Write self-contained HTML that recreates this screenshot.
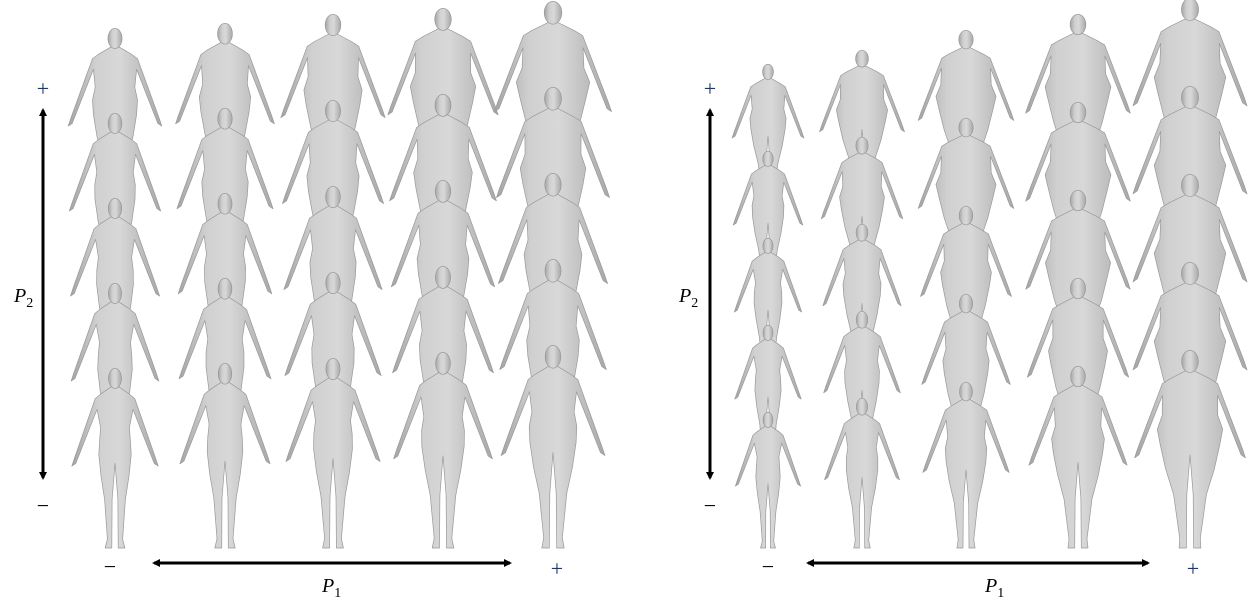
<!DOCTYPE html>
<html><head><meta charset="utf-8"><style>
html,body{margin:0;padding:0;background:#fff;}
svg{display:block;font-family:"Liberation Serif",serif;}
</style></head><body>
<svg id="fig" width="1248" height="602" viewBox="0 0 1248 602" xmlns="http://www.w3.org/2000/svg">
<defs>
<linearGradient id="skin" x1="0" x2="1" y1="0" y2="0">
<stop offset="0" stop-color="#a4a4a4"/><stop offset="0.3" stop-color="#d0d0d0"/><stop offset="0.55" stop-color="#d8d8d8"/><stop offset="1" stop-color="#a8a8a8"/>
</linearGradient>
<marker id="ah" markerWidth="8" markerHeight="8" refX="6" refY="4" orient="auto-start-reverse" markerUnits="userSpaceOnUse"><path d="M0,0 L8,4 L0,8 Z" fill="#000"/></marker>
</defs>
<g id="bodies"></g>
<g>
<line x1="43" y1="110" x2="43" y2="478" stroke="#000" stroke-width="3" marker-start="url(#ah)" marker-end="url(#ah)"/>
<text x="43" y="96" font-size="22" text-anchor="middle" fill="#1f3864">+</text>
<text x="43" y="513" font-size="22" text-anchor="middle">−</text>
<text x="14" y="302" font-size="20" font-style="italic">P<tspan font-size="14" dy="5" font-style="normal">2</tspan></text>
<line x1="154" y1="563" x2="510" y2="563" stroke="#000" stroke-width="3" marker-start="url(#ah)" marker-end="url(#ah)"/>
<text x="110" y="574" font-size="22" text-anchor="middle">−</text>
<text x="557" y="576" font-size="22" text-anchor="middle" fill="#1f3864">+</text>
<text x="322" y="592" font-size="20" font-style="italic">P<tspan font-size="14" dy="5" font-style="normal">1</tspan></text>
</g>
<g>
<line x1="710" y1="110" x2="710" y2="478" stroke="#000" stroke-width="3" marker-start="url(#ah)" marker-end="url(#ah)"/>
<text x="710" y="96" font-size="22" text-anchor="middle" fill="#1f3864">+</text>
<text x="710" y="513" font-size="22" text-anchor="middle">−</text>
<text x="679" y="302" font-size="20" font-style="italic">P<tspan font-size="14" dy="5" font-style="normal">2</tspan></text>
<line x1="808" y1="563" x2="1148" y2="563" stroke="#000" stroke-width="3" marker-start="url(#ah)" marker-end="url(#ah)"/>
<text x="768" y="574" font-size="22" text-anchor="middle">−</text>
<text x="1193" y="576" font-size="22" text-anchor="middle" fill="#1f3864">+</text>
<text x="985" y="592" font-size="20" font-style="italic">P<tspan font-size="14" dy="5" font-style="normal">1</tspan></text>
</g>
</svg>
<script>
// Left panel
const leftColX = [115, 225, 333, 443, 553];
const leftHeight = [180, 185, 190, 196, 203];
const leftRowStep = [85, 85, 86, 86, 86];
const leftFatCol = [0.0, 0.1, 0.2, 0.3, 0.4];
const leftFatRow = [0.5, 0.35, 0.2, 0.1, 0.0];
// Right panel
const rightColX = [768, 862, 966, 1078, 1190];
const rightHeight = [136, 150, 166, 182, 198];
const rightRowStep = [87, 87, 88, 88, 88];
const rightFatCol = [0.0, 0.25, 0.5, 0.75, 1.0];
const rightFatRow = [0.6, 0.4, 0.2, 0.1, 0.0];
const FEET_Y = 548;

const NS = "http://www.w3.org/2000/svg";
const g = document.getElementById('bodies');

function bodyPath(cx, top, H, f) {
  const pts = [
    [.105,.022],[.145,.08+.02*f],[.17,.11+.03*f],[.50,.225+.04*f],[.545,.24+.04*f],
    [.53,.218+.04*f],[.23,.1+.04*f],[.33,.08+.06*f],[.40,.085+.08*f],[.48,.09+.06*f],
    [.60,.078+.045*f],[.73,.058+.025*f],[.95,.042+.01*f],[1.0,.055],[1.0,.018],[.73,.016],[.53,0]
  ];
  const r = pts.map(p => [cx + p[1]*H, top + p[0]*H]);
  const l = pts.slice().reverse().map(p => [cx - p[1]*H, top + p[0]*H]);
  const all = r.concat(l.slice(1));
  return 'M' + all.map(p => p[0].toFixed(1) + ',' + p[1].toFixed(1)).join(' L') + ' Z';
}

function drawPanel(colX, heights, steps, fc, fr, side) {
  for (let row = 0; row < 5; row++) {
    for (let c = 0; c < 5; c++) {
      const H = heights[c];
      const top = FEET_Y - H - steps[c] * (4 - row);
      const f = Math.min(1.2, fc[c] + fr[row] + fc[c]*fr[row]*1.5);
      const grp = document.createElementNS(NS, 'g');
      
      
      const p = document.createElementNS(NS, 'path');
      p.setAttribute('d', bodyPath(colX[c], top, H, f));
      p.setAttribute('fill', 'url(#skin)');
      p.setAttribute('stroke', '#999');
      p.setAttribute('stroke-width', '0.7');
      p.setAttribute('stroke-linejoin', 'round');
      grp.appendChild(p);
      const h = document.createElementNS(NS, 'ellipse');
      h.setAttribute('cx', colX[c]);
      h.setAttribute('cy', top + 0.058*H);
      h.setAttribute('rx', 0.036*H + 0.006*H*f);
      h.setAttribute('ry', 0.056*H);
      h.setAttribute('fill', 'url(#skin)');
      h.setAttribute('stroke', '#999');
      h.setAttribute('stroke-width', '0.7');
      grp.appendChild(h);
      g.appendChild(grp);
    }
  }
}
drawPanel(leftColX, leftHeight, leftRowStep, leftFatCol, leftFatRow, 'left');
drawPanel(rightColX, rightHeight, rightRowStep, rightFatCol, rightFatRow, 'right');
</script>
</body></html>
